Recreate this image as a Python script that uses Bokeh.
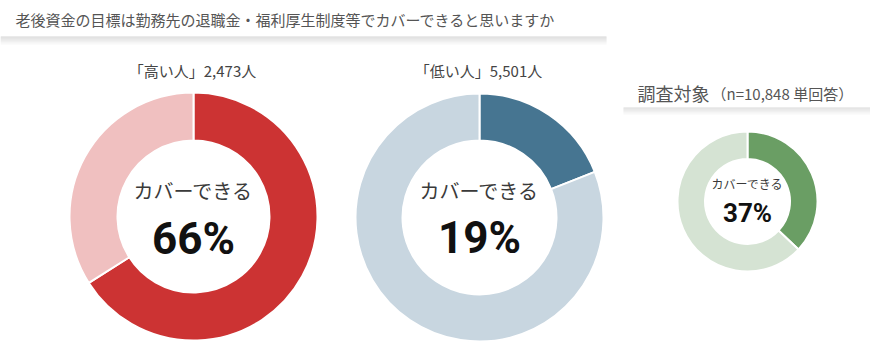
import math
from bokeh.plotting import figure
from bokeh.models import Range1d, ColumnDataSource
from bokeh.core.properties import value
from bokeh.embed import file_html
from bokeh.resources import INLINE

# ---- data ----
title = "老後資金の目標は勤務先の退職金・福利厚生制度等でカバーできると思いますか"
group_labels = ["「高い人」2,473人", "「低い人」5,501人"]
survey_title = "調査対象"
survey_note = "（n=10,848 単回答）"
center_label = "カバーできる"
cover_pct = [66, 19, 37]
main_colors = ["#CC3333", "#467591", "#6A9E64"]
rest_colors = ["#F0C0C0", "#C8D6E0", "#D5E3D3"]

# ---- layout (screen px in the 876x357 window) ----
W, H = 870, 350
def X(px):
    return px
def Y(py):
    return H - py

centers = [(193, 216), (479, 217), (747, 201)]
radii = [(124, 76), (124, 77), (70, 42.5)]
label_fs = ["20px", "20px", "12px"]
pct_fs = ["44px", "44px", "26px"]
label_dy = [-26, -27, -18]
pct_dy = [22, 20, 11]

p = figure(width=W, height=H, output_backend="svg", toolbar_location=None,
           x_range=Range1d(0, W), y_range=Range1d(0, H), min_border=0)
p.axis.visible = False
p.grid.visible = False
p.outline_line_color = None
p.background_fill_color = "white"

# shadow bands under the headers
band_cols = ["#d6d6d6", "#dadada", "#dedede", "#e3e3e3", "#e8e8e8", "#eeeeee", "#f3f3f3", "#f8f8f8"]
for i, c in enumerate(band_cols):
    p.quad(left=X(0), right=X(606), top=Y(36 + i), bottom=Y(37 + i), fill_color=c, line_color=None)
for i, c in enumerate(band_cols[1:]):
    p.quad(left=X(623), right=X(876), top=Y(107 + i), bottom=Y(108 + i), fill_color=c, line_color=None)

jp = value("Noto Sans CJK JP")
num_font = value("Roboto")

p.text(x=[X(15)], y=[Y(19)], text=[title], text_font=jp, text_font_size="15px",
       text_color="#555555", text_baseline="middle", text_align="left")

for i, lab in enumerate(group_labels):
    cx, cy = centers[i]
    p.text(x=[X(cx - 1)], y=[Y(70)], text=[lab], text_font=jp, text_font_size="15px",
           text_color="#444444", text_baseline="middle", text_align="center")

p.text(x=[X(637)], y=[Y(92)], text=[survey_title], text_font=jp, text_font_size="18px",
       text_color="#555555", text_baseline="middle", text_align="left")
p.text(x=[X(711)], y=[Y(93)], text=[survey_note], text_font=jp, text_font_size="15px",
       text_color="#555555", text_baseline="middle", text_align="left")

for i, pct in enumerate(cover_pct):
    cx, cy = centers[i]
    ro, ri = radii[i]
    frac = pct / 100.0
    top = math.pi / 2
    src = ColumnDataSource(dict(
        x=[X(cx), X(cx)], y=[Y(cy), Y(cy)],
        start=[top - 2 * math.pi * frac, top],
        end=[top, top - 2 * math.pi * frac + 2 * math.pi],
        color=[main_colors[i], rest_colors[i]],
    ))
    p.annular_wedge(x="x", y="y", inner_radius=ri, outer_radius=ro,
                    start_angle="start", end_angle="end", direction="anticlock",
                    fill_color="color", line_color="white", line_width=2, source=src)
    p.text(x=[X(cx)], y=[Y(cy + label_dy[i])], text=[center_label], text_font=jp,
           text_font_size=label_fs[i], text_color="#3a3a3a",
           text_baseline="middle", text_align="center")
    p.text(x=[X(cx)], y=[Y(cy + pct_dy[i])], text=[f"{pct}%"], text_font=num_font,
           text_font_size=pct_fs[i], text_font_style="bold", text_color="#111111",
           text_baseline="middle", text_align="center")

open("out.html", "w").write(file_html(p, INLINE))
